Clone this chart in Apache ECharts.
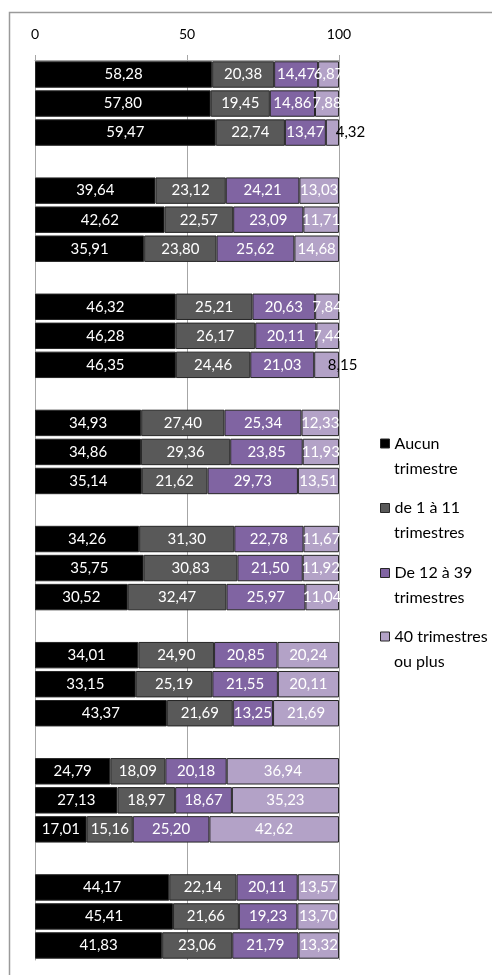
<!DOCTYPE html>
<html>
<head>
<meta charset="utf-8">
<script src="https://cdn.jsdelivr.net/npm/echarts@6/dist/echarts.min.js"></script>
<style>
html,body{margin:0;padding:0;background:#fff;}
#c{width:492px;height:975px;}
</style>
</head>
<body>
<div id="c"></div>
<script>
// 8 groups of 3 bars, separated by empty rows (null)
const categories = [
  'g1-1','g1-2','g1-3','s1',
  'g2-1','g2-2','g2-3','s2',
  'g3-1','g3-2','g3-3','s3',
  'g4-1','g4-2','g4-3','s4',
  'g5-1','g5-2','g5-3','s5',
  'g6-1','g6-2','g6-3','s6',
  'g7-1','g7-2','g7-3','s7',
  'g8-1','g8-2','g8-3'
];
const seriesNames = ['Aucun trimestre', 'de 1 à 11 trimestres', 'De 12 à 39 trimestres', '40 trimestres ou plus'];
const legendLine1 = ['Aucun', 'de 1 à 11', 'De 12 à 39', '40 trimestres'];
const legendLine2 = ['trimestre', 'trimestres', 'trimestres', 'ou plus'];
const aucun = [58.28,57.80,59.47,null, 39.64,42.62,35.91,null, 46.32,46.28,46.35,null, 34.93,34.86,35.14,null,
               34.26,35.75,30.52,null, 34.01,33.15,43.37,null, 24.79,27.13,17.01,null, 44.17,45.41,41.83];
const de1a11 = [20.38,19.45,22.74,null, 23.12,22.57,23.80,null, 25.21,26.17,24.46,null, 27.40,29.36,21.62,null,
                31.30,30.83,32.47,null, 24.90,25.19,21.69,null, 18.09,18.97,15.16,null, 22.14,21.66,23.06];
const de12a39 = [14.47,14.86,13.47,null, 24.21,23.09,25.62,null, 20.63,20.11,21.03,null, 25.34,23.85,29.73,null,
                 22.78,21.50,25.97,null, 20.85,21.55,13.25,null, 20.18,18.67,25.20,null, 20.11,19.23,21.79];
const plus40 = [6.87,7.88,4.32,null, 13.03,11.71,14.68,null, 7.84,7.44,8.15,null, 12.33,11.93,13.51,null,
                11.67,11.92,11.04,null, 20.24,20.11,21.69,null, 36.94,35.23,42.62,null, 13.57,13.70,13.32];
const xTicks = [0, 50, 100];

const colors = ['#000000', '#595959', '#8064a2', '#b3a2c7'];
// rows whose last label is dark and displaced to the right (index -> x offset)
const movedLabels = {2: 18, 10: 16};
const FONT = 'Lato';
const fmt = v => v.toFixed(2).replace('.', ',');

const allValues = [aucun, de1a11, de12a39, plus40];
const series = allValues.map((vals, si) => ({
  name: seriesNames[si],
  type: 'bar',
  stack: 'total',
  barCategoryGap: '9%',
  itemStyle: { color: colors[si], borderColor: '#262626', borderWidth: 1 },
  label: {
    show: true, position: 'inside', color: '#ffffff',
    fontFamily: FONT, fontSize: 15,
    formatter: p => (p.value == null ? '' : fmt(p.value))
  },
  data: vals.map((v, i) => {
    if (v == null) return null;
    if (si === 3 && movedLabels[i] !== undefined) {
      return { value: v, label: { color: '#000000', offset: [movedLabels[i], 0] } };
    }
    return v;
  })
}));

// icon centre y of each legend entry
const legendCentres = [443.5, 508, 573, 636.5];
const LH = 18;
const legends = seriesNames.map((n, i) => ({
  data: [n],
  orient: 'vertical',
  left: 380,
  top: legendCentres[i] - LH / 2,
  itemWidth: 9,
  itemHeight: 9,
  itemGap: 0,
  padding: 0,
  icon: 'rect',
  itemStyle: { borderColor: '#262626', borderWidth: 1 },
  formatter: () => legendLine1[i],
  textStyle: { fontFamily: FONT, fontSize: 16, color: '#000', lineHeight: LH }
}));
const legendSecond = legendLine2.map((t, i) => ({
  type: 'text', silent: true,
  x: 394, y: legendCentres[i] + 25,
  style: { text: t, fontFamily: FONT, fontSize: 16, fill: '#000', verticalAlign: 'middle', align: 'left' }
}));

const chart = echarts.init(document.getElementById('c'), null, { renderer: 'canvas' });
chart.setOption({
  animation: false,
  backgroundColor: '#ffffff',
  textStyle: { fontFamily: FONT },
  grid: { left: 35, right: 153, top: 60, bottom: 15, containLabel: false },
  legend: legends,
  xAxis: {
    type: 'value', position: 'top', min: xTicks[0], max: xTicks[xTicks.length - 1], interval: 50,
    axisLine: { show: true, lineStyle: { color: '#a6a6a6' } },
    axisTick: { show: true, length: 5, lineStyle: { color: '#a6a6a6' } },
    axisLabel: { fontFamily: FONT, fontSize: 14, color: '#000', margin: 19 },
    splitLine: { show: true, lineStyle: { color: '#a6a6a6', width: 1 } }
  },
  yAxis: {
    type: 'category', data: categories, inverse: true,
    axisLine: { show: true, lineStyle: { color: '#a6a6a6' } },
    axisTick: { show: false },
    axisLabel: { show: false }
  },
  graphic: [{
    type: 'rect', silent: true, z: 100,
    shape: { x: 9.5, y: 12.5, width: 700, height: 1200 },
    style: { fill: 'none', stroke: '#9a9a9a', lineWidth: 1.5 }
  }].concat(legendSecond),
  series: series
});
</script>
</body>
</html>
